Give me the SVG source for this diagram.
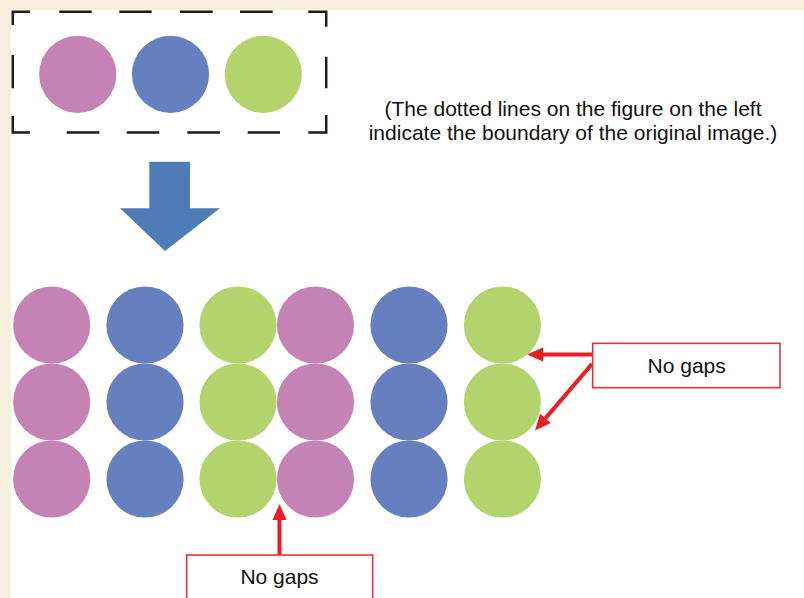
<svg xmlns="http://www.w3.org/2000/svg" width="804" height="598" viewBox="0 0 804 598">
<style>
.pink{fill:#c583b5}
.blue{fill:#657fbf}
.green{fill:#b3d46d}
.dash{fill:none;stroke:#231815;stroke-width:2.5;stroke-linejoin:miter}
.box{fill:#ffffff;stroke:#e8323a;stroke-width:1.6}
.lbl{font-family:"Liberation Sans",Arial,sans-serif;font-size:21px;fill:#111111}
.red{stroke:#ec1c24;stroke-width:4;fill:none}
</style>
<defs>
<marker id="ah" markerUnits="userSpaceOnUse" markerWidth="16" markerHeight="14" refX="0" refY="7" orient="auto" overflow="visible">
<path d="M0,0 L16,7 L0,14 Z" fill="#ec1c24"/>
</marker>
</defs>
<rect x="0" y="0" width="804" height="598" fill="#f5efdc"/>
<rect x="11" y="10" width="793" height="588" fill="#ffffff"/>

<g id="original">
<path class="dash" d="M12.8,25 V11.7 H30 M59.3,11.7 H91.7 M119.3,11.7 H151.7 M180,11.7 H212.7 M240,11.7 H272.7 M308.3,11.7 H326.2 V26.7 M326.2,56.7 V88.3 M326.2,115 V132.5 H308.3 M280,132.5 H247.7 M220,132.5 H187.3 M159.3,132.5 H126.7 M99.3,132.5 H66.7 M30,132.5 H12.8 V115.7 M12.8,88.3 V55"/>
<circle class="pink" cx="77.7" cy="74.3" r="38.6"/>
<circle class="blue" cx="170.5" cy="74.3" r="38.6"/>
<circle class="green" cx="263.3" cy="74.3" r="38.6"/>
</g>

<g id="note">
<text class="lbl" x="573" y="115.7" text-anchor="middle">(The dotted lines on the figure on the left</text>
<text class="lbl" x="573" y="140" text-anchor="middle">indicate the boundary of the original image.)</text>
</g>

<g id="bigarrow">
<path d="M149.3,161.7 H190 V208.3 H220 L165,251 L120,208.3 H149.3 Z" fill="#4f7cb6"/>
</g>

<g id="tiled">
<circle class="pink" cx="51.7" cy="325" r="38.6"/>
<circle class="pink" cx="51.7" cy="402" r="38.6"/>
<circle class="pink" cx="51.7" cy="479" r="38.6"/>
<circle class="blue" cx="145" cy="325" r="38.6"/>
<circle class="blue" cx="145" cy="402" r="38.6"/>
<circle class="blue" cx="145" cy="479" r="38.6"/>
<circle class="green" cx="238" cy="325" r="38.6"/>
<circle class="green" cx="238" cy="402" r="38.6"/>
<circle class="green" cx="238" cy="479" r="38.6"/>
<circle class="pink" cx="315.5" cy="325" r="38.6"/>
<circle class="pink" cx="315.5" cy="402" r="38.6"/>
<circle class="pink" cx="315.5" cy="479" r="38.6"/>
<circle class="blue" cx="409" cy="325" r="38.6"/>
<circle class="blue" cx="409" cy="402" r="38.6"/>
<circle class="blue" cx="409" cy="479" r="38.6"/>
<circle class="green" cx="502.4" cy="325" r="38.6"/>
<circle class="green" cx="502.4" cy="402" r="38.6"/>
<circle class="green" cx="502.4" cy="479" r="38.6"/>
</g>

<g id="connectors">
<line class="red" x1="592" y1="354.5" x2="543" y2="354.5" marker-end="url(#ah)"/>
<line class="red" x1="592" y1="364" x2="545.4" y2="418.4" marker-end="url(#ah)"/>
<line class="red" x1="279.5" y1="555" x2="279.5" y2="520" marker-end="url(#ah)"/>
</g>

<g id="label-right">
<rect class="box" x="592.7" y="343.3" width="187.3" height="44.4"/>
<text class="lbl" x="686.7" y="372.7" text-anchor="middle">No gaps</text>
</g>

<g id="label-bottom">
<rect class="box" x="186.7" y="555" width="186" height="50"/>
<text class="lbl" x="279.5" y="584" text-anchor="middle">No gaps</text>
</g>
</svg>
